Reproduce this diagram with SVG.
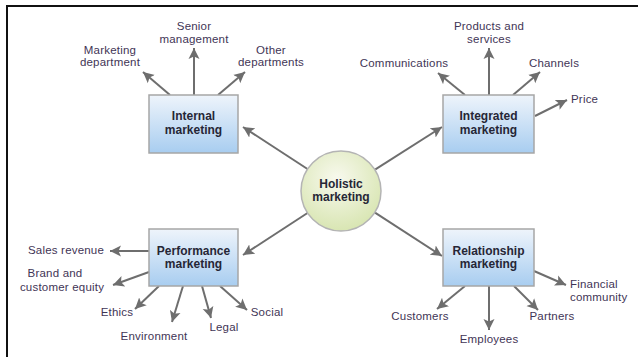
<svg xmlns="http://www.w3.org/2000/svg" width="638" height="357" viewBox="0 0 638 357">
  <defs>
    <linearGradient id="boxFill" x1="0" y1="0" x2="0" y2="1">
      <stop offset="0" stop-color="#eef4fb"/>
      <stop offset="1" stop-color="#a8cdf0"/>
    </linearGradient>
    <radialGradient id="hubFill" cx="0.45" cy="0.35" r="0.7">
      <stop offset="0" stop-color="#f8f9ee"/>
      <stop offset="1" stop-color="#d6e4ae"/>
    </radialGradient>
    <marker id="arrow" markerUnits="userSpaceOnUse" markerWidth="12" markerHeight="12" refX="11" refY="6" orient="auto">
      <path d="M0,0.5 L11,6 L0,11.5 L2.5,6 z" fill="#6e6e6e"/>
    </marker>
    <style>
      .frame { stroke: #111; stroke-width: 2; fill: none; }
      .box { fill: url(#boxFill); stroke: #a6a6a6; stroke-width: 1.5; }
      .hub { fill: url(#hubFill); stroke: #b4b4b4; stroke-width: 1.5; }
      .title { font-family: "Liberation Sans", Arial, sans-serif; font-weight: bold; font-size: 12px; fill: #262636; text-anchor: middle; }
      .lbl { font-family: "Liberation Sans", Arial, sans-serif; font-size: 11.5px; letter-spacing: 0.2px; fill: #3f3556; }
      .mid { text-anchor: middle; }
      #connectors line { stroke: #6e6e6e; stroke-width: 2; marker-end: url(#arrow); }
    </style>
  </defs>

  <rect width="638" height="357" fill="#ffffff"/>
  <!-- frame: top and left rules only -->
  <path class="frame" d="M7,357 L7,6 L638,6"/>

  <g id="connectors">
    <!-- hub to the four areas -->
    <line x1="307.5" y1="169" x2="243" y2="127"/>
    <line x1="375" y1="169.6" x2="442" y2="127"/>
    <line x1="307.5" y1="213" x2="243" y2="255"/>
    <line x1="375" y1="212.7" x2="442" y2="256"/>
    <!-- internal marketing -->
    <line x1="170" y1="95" x2="143" y2="72"/>
    <line x1="194" y1="95" x2="194" y2="48"/>
    <line x1="218" y1="95" x2="245" y2="72"/>
    <!-- integrated marketing -->
    <line x1="465" y1="95" x2="438" y2="73"/>
    <line x1="489" y1="95" x2="489" y2="48"/>
    <line x1="513" y1="95" x2="540" y2="72"/>
    <line x1="535" y1="116" x2="567" y2="100"/>
    <!-- performance marketing -->
    <line x1="149" y1="251" x2="110" y2="251"/>
    <line x1="149" y1="272" x2="113" y2="285"/>
    <line x1="159" y1="286" x2="135" y2="309"/>
    <line x1="183" y1="286" x2="172" y2="322"/>
    <line x1="202" y1="286" x2="211" y2="318"/>
    <line x1="220" y1="286" x2="247" y2="310"/>
    <!-- relationship marketing -->
    <line x1="465" y1="286" x2="437" y2="309"/>
    <line x1="489" y1="286" x2="489" y2="330"/>
    <line x1="514" y1="286" x2="538" y2="310"/>
    <line x1="534" y1="271" x2="566" y2="285"/>
  </g>

  <g id="holistic">
    <circle class="hub" cx="341" cy="191" r="40"/>
    <text class="title" x="341" y="188">Holistic</text>
    <text class="title" x="341" y="201">marketing</text>
  </g>

  <g id="internal">
    <rect class="box" x="149" y="95" width="89" height="58"/>
    <text class="title" x="193.5" y="120">Internal</text>
    <text class="title" x="193.5" y="134">marketing</text>
  </g>

  <g id="integrated">
    <rect class="box" x="443" y="95" width="91" height="58"/>
    <text class="title" x="488.5" y="120">Integrated</text>
    <text class="title" x="488.5" y="134">marketing</text>
  </g>

  <g id="performance">
    <rect class="box" x="149" y="229" width="89" height="57"/>
    <text class="title" x="193.5" y="255">Performance</text>
    <text class="title" x="193.5" y="268">marketing</text>
  </g>

  <g id="relationship">
    <rect class="box" x="443" y="229" width="91" height="57"/>
    <text class="title" x="488.5" y="255">Relationship</text>
    <text class="title" x="488.5" y="268">marketing</text>
  </g>

  <!-- internal marketing targets -->
  <g id="lbl-marketing-dept"><text class="lbl mid" x="110" y="54">Marketing</text><text class="lbl mid" x="110" y="66">department</text></g>
  <g id="lbl-senior"><text class="lbl mid" x="194" y="30">Senior</text><text class="lbl mid" x="194" y="43">management</text></g>
  <g id="lbl-other"><text class="lbl mid" x="271" y="54">Other</text><text class="lbl mid" x="271" y="66">departments</text></g>

  <!-- integrated marketing targets -->
  <g id="lbl-communications"><text class="lbl mid" x="404" y="67">Communications</text></g>
  <g id="lbl-products"><text class="lbl mid" x="489" y="30">Products and</text><text class="lbl mid" x="489" y="43">services</text></g>
  <g id="lbl-channels"><text class="lbl mid" x="554" y="67">Channels</text></g>
  <g id="lbl-price"><text class="lbl" x="571" y="103">Price</text></g>

  <!-- performance marketing targets -->
  <g id="lbl-sales"><text class="lbl mid" x="66" y="254">Sales revenue</text></g>
  <g id="lbl-brand"><text class="lbl mid" x="55" y="277">Brand and</text><text class="lbl mid" x="62" y="291">customer equity</text></g>
  <g id="lbl-ethics"><text class="lbl mid" x="117" y="316">Ethics</text></g>
  <g id="lbl-environment"><text class="lbl mid" x="154" y="340">Environment</text></g>
  <g id="lbl-legal"><text class="lbl mid" x="224" y="331">Legal</text></g>
  <g id="lbl-social"><text class="lbl mid" x="267" y="316">Social</text></g>

  <!-- relationship marketing targets -->
  <g id="lbl-customers"><text class="lbl mid" x="420" y="320">Customers</text></g>
  <g id="lbl-employees"><text class="lbl mid" x="489" y="343">Employees</text></g>
  <g id="lbl-partners"><text class="lbl mid" x="552" y="320">Partners</text></g>
  <g id="lbl-financial"><text class="lbl" x="570" y="288">Financial</text><text class="lbl" x="570" y="301">community</text></g>
</svg>
